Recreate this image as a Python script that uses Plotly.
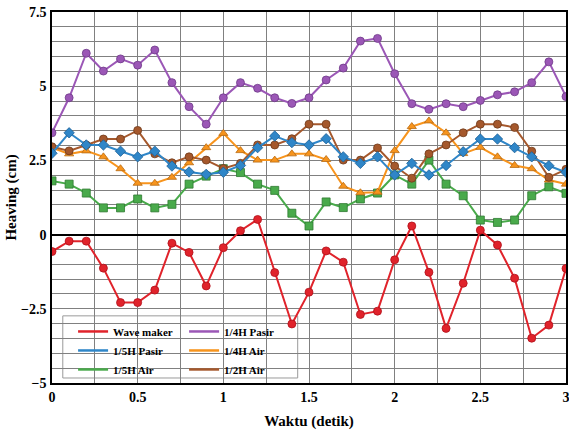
import plotly.graph_objects as go

time = [round(i * 0.1, 1) for i in range(31)]

wave_maker = [-0.57, -0.22, -0.22, -1.13, -2.29, -2.29, -1.87, -0.29, -0.6, -1.73, -0.44,
              0.13, 0.51, -1.28, -3.01, -1.94, -0.55, -0.93, -2.69, -2.58, -0.85,
              0.29, -1.27, -3.16, -1.64, 0.15, -0.35, -1.47, -3.49, -3.05, -1.14]
h4_pasir = [3.43, 4.61, 6.11, 5.51, 5.92, 5.71, 6.22, 5.12, 4.31, 3.72, 4.61,
            5.12, 4.93, 4.61, 4.42, 4.61, 5.21, 5.61, 6.52, 6.61, 5.42,
            4.41, 4.22, 4.41, 4.31, 4.52, 4.71, 4.81, 5.12, 5.82, 4.65]
h5_pasir = [2.74, 3.43, 3.02, 3.02, 2.81, 2.62, 2.81, 2.31, 2.11, 2.03, 2.1,
            2.33, 2.93, 3.32, 3.1, 3.02, 3.23, 2.62, 2.4, 2.62, 2.01,
            2.4, 2.01, 2.33, 2.79, 3.22, 3.22, 2.93, 2.62, 2.32, 2.1]
h4_air = [2.93, 2.72, 2.82, 2.62, 2.22, 1.73, 1.73, 1.93, 2.42, 2.93, 3.41,
          2.83, 2.51, 2.51, 2.72, 2.72, 2.53, 1.63, 1.41, 1.43, 2.83,
          3.64, 3.83, 3.43, 2.73, 2.94, 2.62, 2.33, 2.22, 1.84, 1.7]
h5_air = [1.81, 1.7, 1.4, 0.9, 0.9, 1.2, 0.9, 1.02, 1.7, 1.97, 2.22,
          2.09, 1.7, 1.49, 0.72, 0.29, 1.1, 0.91, 1.2, 1.4, 2.01,
          1.7, 2.51, 1.7, 1.31, 0.49, 0.41, 0.49, 1.31, 1.61, 1.39]
h2_air = [2.96, 2.82, 3.02, 3.22, 3.22, 3.51, 2.72, 2.42, 2.62, 2.51, 2.23,
          2.4, 3.02, 3.02, 3.23, 3.72, 3.72, 2.51, 2.51, 2.92, 2.31,
          1.9, 2.72, 3.02, 3.43, 3.72, 3.72, 3.61, 2.81, 1.93, 2.2]

x_ticks = [0, 0.5, 1, 1.5, 2, 2.5, 3]
x_tick_labels = ["0", "0.5", "1", "1.5", "2", "2.5", "3"]
y_ticks = [-5, -2.5, 0, 2.5, 5, 7.5]
y_tick_labels = ["\u22125", "\u22122.5", "0", "2.5", "5", "7.5"]

# name, values, colour, edge colour, marker, legend column
series = [
    ("Wave maker", wave_maker, "#e0232b", "#b0101a", "circle", "legend"),
    ("1/5H Pasir", h5_pasir, "#2f86c8", "#1d5f95", "diamond", "legend"),
    ("1/5H Air", h5_air, "#49aa4b", "#2e7a31", "square", "legend"),
    ("1/4H Pasir", h4_pasir, "#9b57b6", "#6f3a88", "circle", "legend2"),
    ("1/4H Air", h4_air, "#f7941d", "#b86a10", "triangle-up", "legend2"),
    ("1/2H Air", h2_air, "#a5582c", "#6e3a1b", "circle", "legend2"),
]

fig = go.Figure()
draw_order = [2, 4, 5, 1, 3, 0]
for idx in draw_order:
    name, vals, col, edge, sym, lg = series[idx]
    fig.add_trace(go.Scatter(
        x=time, y=vals, mode="lines+markers", name=name, showlegend=False,
        line=dict(color=col, width=2),
        marker=dict(symbol=sym, size=8, color=col, line=dict(color=edge, width=0.8)),
    ))
# legend entries (line samples only)
for name, vals, col, edge, sym, lg in series:
    fig.add_trace(go.Scatter(x=[None], y=[None], mode="lines", name=name,
                             line=dict(color=col, width=2.5), showlegend=True, legend=lg))

font_family = "Liberation Serif"
legend_font = dict(family=font_family, size=11, weight="bold", color="black")
legend_common = dict(orientation="v", yanchor="top", xanchor="left",
                     bgcolor="rgba(0,0,0,0)", borderwidth=0, font=legend_font,
                     itemwidth=30, tracegroupgap=0)

fig.update_layout(
    width=569, height=432,
    margin=dict(l=52, r=3, t=12, b=49, autoexpand=False),
    paper_bgcolor="white", plot_bgcolor="white",
    font=dict(family=font_family, color="black", size=14),
    legend=dict(x=0.041, y=0.178, **legend_common),
    legend2=dict(x=0.257, y=0.178, **legend_common),
    showlegend=True,
    shapes=[dict(type="rect", xref="paper", yref="paper", x0=0.021, x1=0.478,
                 y0=0.0135, y1=0.181, fillcolor="white",
                 line=dict(color="#9a9a9a", width=1), layer="between")],
)
fig.update_xaxes(
    range=[0, 3], tickvals=x_ticks, ticktext=x_tick_labels, automargin=False,
    showgrid=True, gridcolor="#808080", gridwidth=1,
    minor=dict(dtick=0.25, tick0=0, showgrid=True, gridcolor="#808080", gridwidth=1),
    showline=True, linecolor="black", linewidth=1.5, mirror=True,
    zeroline=False, ticks="", ticklabelstandoff=0, ticklabeloverflow="allow",
    tickfont=dict(family=font_family, size=14, weight="bold"),
    title=dict(text="Waktu (detik)", font=dict(family=font_family, size=15, weight="bold"), standoff=12),
)
fig.update_yaxes(
    range=[-5, 7.5], tickvals=y_ticks, ticktext=y_tick_labels, automargin=False,
    showgrid=True, gridcolor="#808080", gridwidth=1,
    minor=dict(dtick=0.5, tick0=0, showgrid=True, gridcolor="#808080", gridwidth=1),
    showline=True, linecolor="black", linewidth=1.5, mirror=True,
    zeroline=True, zerolinecolor="black", zerolinewidth=2, ticks="", ticklabelstandoff=1,
    ticklabeloverflow="allow",
    tickfont=dict(family=font_family, size=14, weight="bold"),
    title=dict(text="Heaving (cm)", font=dict(family=font_family, size=15, weight="bold"), standoff=1),
)

fig.write_html("out.html", config={"displayModeBar": False},
               post_script="document.body.style.margin='0';document.body.style.padding='0';")
